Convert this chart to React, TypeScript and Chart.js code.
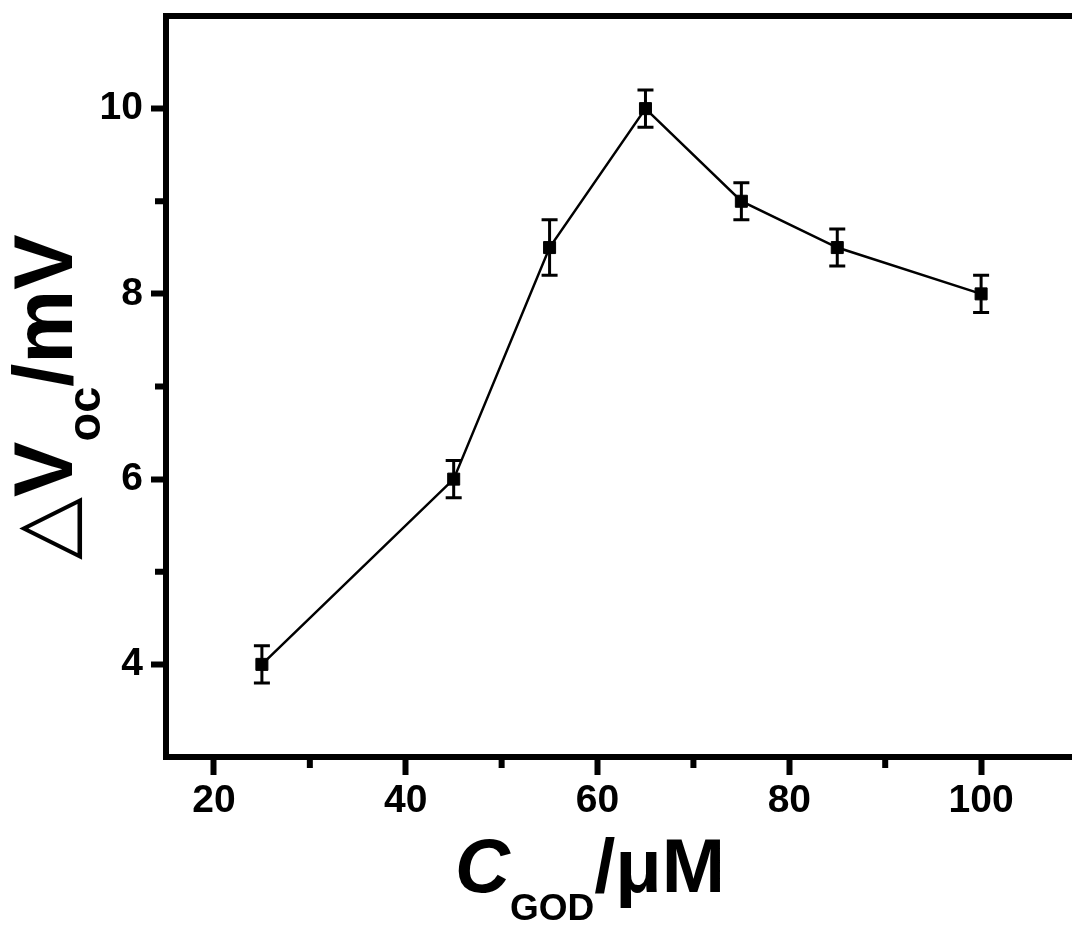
import React, { useEffect, useRef } from "react";
import { Chart, registerables } from "chart.js";

Chart.register(...registerables);

// ---- data ----
const concentrations = [25, 45, 55, 65, 75, 85, 100];
const deltaVoc = [4, 6, 8.5, 10, 9, 8.5, 8];
const errors = [0.2, 0.2, 0.3, 0.2, 0.2, 0.2, 0.2];
const xMajorTicks = [20, 40, 60, 80, 100];
const xMinorTicks = [30, 50, 70, 90, 110];
const yMajorTicks = [4, 6, 8, 10];
const yMinorTicks = [5, 7, 9];
const X_MIN = 15;
const X_MAX = 110;
const Y_MIN = 3;
const Y_MAX = 11;

const FONT = '"Liberation Sans", Arial, Helvetica, sans-serif';
const TRI_FONT = '"DejaVu Sans", "Liberation Sans", sans-serif';

type Run = { text: string; font: string; dy?: number };

function drawRuns(ctx: CanvasRenderingContext2D, runs: Run[]) {
  let x = 0;
  for (const r of runs) {
    ctx.font = r.font;
    ctx.fillText(r.text, x, r.dy || 0);
    x += ctx.measureText(r.text).width;
  }
}

const zeroPad = (s: any) => {
  s.paddingTop = 0;
  s.paddingBottom = 0;
  s.paddingLeft = 0;
  s.paddingRight = 0;
};

const decorPlugin = {
  id: "decor",
  beforeDatasetsDraw(chart: any) {
    const ctx: CanvasRenderingContext2D = chart.ctx;
    const xs = chart.scales.x;
    const ys = chart.scales.y;
    ctx.save();
    ctx.strokeStyle = "#000";
    ctx.lineWidth = 3;
    const capHalf = 8;
    concentrations.forEach((c, i) => {
      const px = xs.getPixelForValue(c);
      const top = ys.getPixelForValue(deltaVoc[i] + errors[i]);
      const bot = ys.getPixelForValue(deltaVoc[i] - errors[i]);
      ctx.beginPath();
      ctx.moveTo(px, top);
      ctx.lineTo(px, bot);
      ctx.moveTo(px - capHalf, top);
      ctx.lineTo(px + capHalf, top);
      ctx.moveTo(px - capHalf, bot);
      ctx.lineTo(px + capHalf, bot);
      ctx.stroke();
    });
    ctx.restore();
  },
  afterDraw(chart: any) {
    const ctx: CanvasRenderingContext2D = chart.ctx;
    const xs = chart.scales.x;
    const ys = chart.scales.y;
    const area = chart.chartArea;
    ctx.save();
    // minor ticks
    ctx.strokeStyle = "#000";
    ctx.lineWidth = 6;
    ctx.beginPath();
    xMinorTicks.forEach((v) => {
      const px = xs.getPixelForValue(v);
      ctx.moveTo(px, area.bottom);
      ctx.lineTo(px, area.bottom + 11);
    });
    yMinorTicks.forEach((v) => {
      const py = ys.getPixelForValue(v);
      ctx.moveTo(area.left, py);
      ctx.lineTo(area.left - 11, py);
    });
    ctx.stroke();

    ctx.fillStyle = "#000";
    ctx.textBaseline = "alphabetic";
    ctx.textAlign = "left";

    // x title
    ctx.save();
    ctx.translate(455, 892);
    drawRuns(ctx, [
      { text: "C", font: `italic bold 76px ${FONT}` },
      { text: "GOD", font: `bold 37px ${FONT}`, dy: 28 },
      { text: "/μM", font: `bold 76px ${FONT}` },
    ]);
    ctx.restore();

    // y title
    ctx.save();
    ctx.translate(72, 560);
    ctx.rotate(-Math.PI / 2);
    drawRuns(ctx, [
      { text: "△", font: `82px ${TRI_FONT}` },
      { text: "V", font: `bold 83px ${FONT}` },
      { text: "oc", font: `bold 47px ${FONT}`, dy: 28 },
      { text: "/mV", font: `bold 83px ${FONT}` },
    ]);
    ctx.restore();

    ctx.restore();
  },
};

export default function App() {
  const canvasRef = useRef<HTMLCanvasElement | null>(null);

  useEffect(() => {
    const canvas = canvasRef.current;
    if (!canvas) return;
    const tickFont = { family: FONT, size: 39, weight: "bold" as const };
    const chart = new Chart(canvas, {
      type: "line",
      data: {
        datasets: [
          {
            data: concentrations.map((c, i) => ({ x: c, y: deltaVoc[i] })),
            borderColor: "#000",
            borderWidth: 2.5,
            backgroundColor: "#000",
            pointStyle: "rect",
            pointRadius: 8.5,
            pointBorderWidth: 1,
            pointBackgroundColor: "#000",
            pointBorderColor: "#000",
            tension: 0,
            fill: false,
          },
        ],
      },
      options: {
        animation: false,
        responsive: false,
        devicePixelRatio: 1,
        layout: { padding: { top: 16, right: 23, left: 0, bottom: 0 } },
        plugins: {
          legend: { display: false },
          tooltip: { enabled: false },
        },
        events: [],
        scales: {
          x: {
            type: "linear",
            position: "bottom",
            min: X_MIN,
            max: X_MAX,
            afterBuildTicks: (s: any) => {
              s.ticks = xMajorTicks.map((v) => ({ value: v }));
            },
            afterFit: (s: any) => {
              s.height = 170;
              zeroPad(s);
            },
            ticks: {
              autoSkip: false,
              maxRotation: 0,
              minRotation: 0,
              color: "#000",
              font: tickFont,
              padding: 3,
            },
            grid: {
              display: true,
              drawOnChartArea: false,
              drawTicks: true,
              tickLength: 18,
              tickWidth: 6,
              tickColor: "#000",
            },
            border: { display: true, width: 6, color: "#000" },
          },
          xTop: {
            type: "linear",
            position: "top",
            display: true,
            min: X_MIN,
            max: X_MAX,
            afterFit: (s: any) => {
              s.height = 0;
              zeroPad(s);
            },
            ticks: { display: false },
            grid: { display: false, drawTicks: false },
            border: { display: true, width: 6, color: "#000" },
          },
          y: {
            type: "linear",
            position: "left",
            min: Y_MIN,
            max: Y_MAX,
            afterBuildTicks: (s: any) => {
              s.ticks = yMajorTicks.map((v) => ({ value: v }));
            },
            afterFit: (s: any) => {
              s.width = 166;
              zeroPad(s);
            },
            ticks: {
              autoSkip: false,
              color: "#000",
              font: tickFont,
              padding: 8,
            },
            grid: {
              display: true,
              drawOnChartArea: false,
              drawTicks: true,
              tickLength: 15,
              tickWidth: 6,
              tickColor: "#000",
            },
            border: { display: true, width: 6, color: "#000" },
          },
        },
      },
      plugins: [decorPlugin],
    });
    return () => chart.destroy();
  }, []);

  return (
    <div
      style={{
        position: "absolute",
        left: 0,
        top: 0,
        width: 1072,
        height: 927,
        overflow: "hidden",
        background: "#fff",
      }}
    >
      <canvas ref={canvasRef} width={1100} height={927} style={{ display: "block" }} />
    </div>
  );
}
